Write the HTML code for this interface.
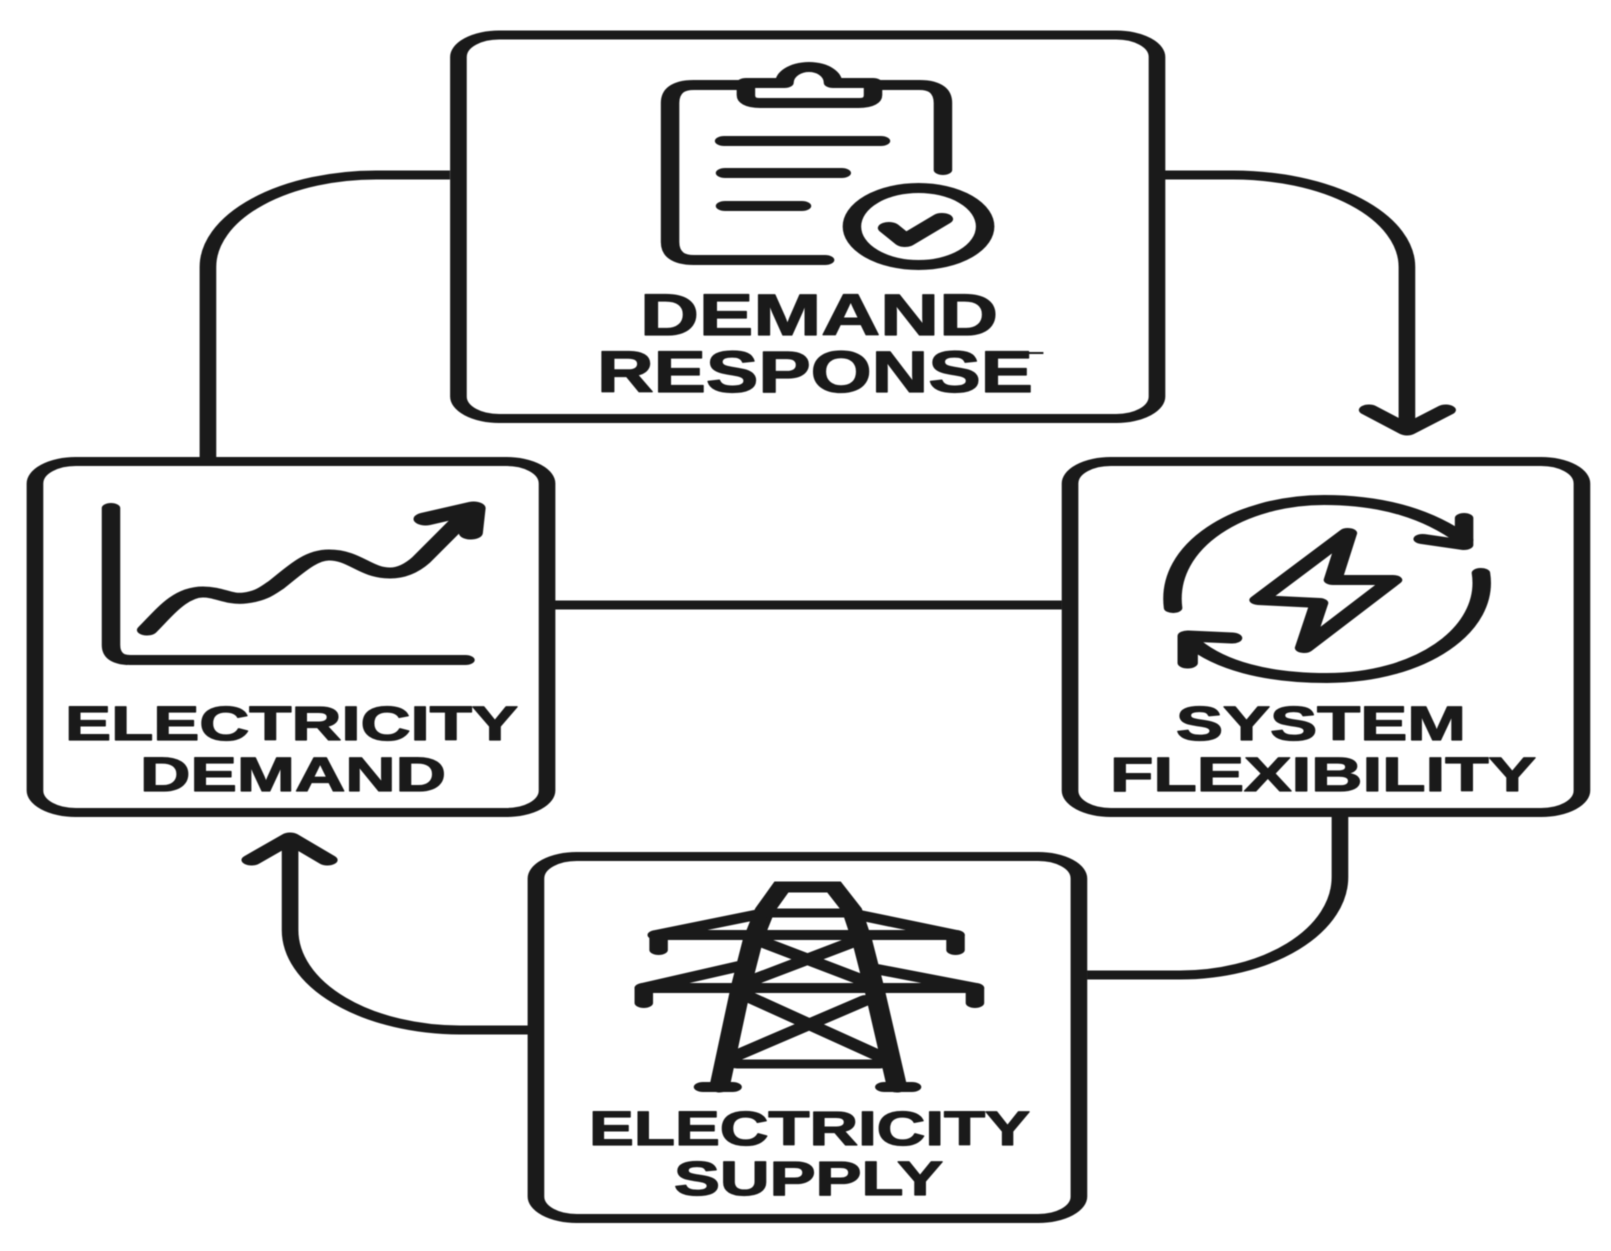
<!DOCTYPE html>
<html><head><meta charset="utf-8"><style>
html,body{margin:0;padding:0;background:#fff}
svg{display:block;filter:blur(0.6px)}
text{font-family:"Liberation Sans",sans-serif;font-weight:700;fill:#1a1a1a;stroke:#1a1a1a;stroke-width:1.3px;stroke-linejoin:round}
</style></head><body>
<svg width="1611" height="1251" viewBox="0 0 1611 1251" xmlns="http://www.w3.org/2000/svg">
<rect width="1611" height="1251" fill="#fff"/>
<g transform="scale(1.85 1)" fill="none" stroke="#1a1a1a" stroke-width="9" stroke-linecap="round" stroke-linejoin="round">
<!-- connectors -->
<g stroke-linecap="butt">
<path d="M629.7 175H666.5A94 92 0 0 1 760.5 267V430"/>
<path d="M243.2 175H203.8A91 92 0 0 0 112.4 267V457"/>
<path d="M285.4 1030H248.6A92 100 0 0 1 156.8 930V838"/>
<path d="M724.3 817V877A86.5 98 0 0 1 637.8 975H587.6"/>
<path d="M300 605H574"/>
</g>
<path d="M740 410L760.5 430L781.5 410" stroke-width="11"/>
<path d="M136 860L156.8 838L177 860" stroke-width="11"/>
<!-- boxes -->
<rect x="247.8" y="35" width="377.6" height="383.5" rx="22" ry="22"/>
<rect x="18.9" y="461.5" width="276.8" height="351" rx="22" ry="22"/>
<rect x="578.4" y="461.5" width="276.7" height="351" rx="22" ry="22"/>
<rect x="289.7" y="856.5" width="293.5" height="362" rx="22" ry="22"/>
<!-- clipboard -->
<g stroke-width="10">
<path d="M509.7 170V103Q509.7 85 497 85H375Q362.2 85 362.2 103V242Q362.2 260 375 260H446"/>
<path fill="#fff" d="M403.2 83H424C424 74 430 67 437.3 67C444.6 67 450.3 74 450.3 83H471.9V95Q471.9 103 464 103H411Q403.2 103 403.2 95Z"/>
<path d="M391.4 141H476.2M391.9 173H455M391.9 206H433.5"/>
<ellipse cx="496.5" cy="226.5" rx="36" ry="38.5" fill="#fff"/>
<path stroke-width="12" d="M480.5 228L489.2 241L509.2 219"/>
</g>
<!-- chart -->
<path stroke-width="10" d="M60 508V645Q60 660 70.3 660H251.6"/>
<path stroke-width="11" d="M79.5 630C89.2 612 97.3 592 109.7 592C118.9 592 123.2 600 132.4 598C141.6 596 144.9 590 149.2 585C159.5 570 167.6 555 177.8 555C191.9 555 197.3 573 210.8 573C217.3 573 222.7 568 227.6 560L254.6 510"/>
<path stroke-width="13" d="M230 519L256 508L254.5 533"/>
<!-- flexibility -->
<path stroke-width="10" d="M634.1 608C629.7 545 670.3 500 715.7 500C748.6 500 773 515 791.4 540"/>
<path stroke-width="10" d="M800.5 573C805.4 630 767.6 678 717.3 678C683.8 678 659.5 665 644.9 643"/>
<path stroke-width="10" d="M791.4 518V545L769 539"/>
<path stroke-width="11" d="M666 638L642 636V663"/>
<path stroke-width="10" d="M728.6 533L680.3 600L713 603L704.9 648L753 580L720.5 580Z"/>
<!-- tower -->
<path stroke-width="11" stroke-linejoin="miter" d="M388.9 1087L400.5 987L407 940L413.5 910L422.4 887H450.8L460.5 910L465.9 940L472.4 987L484.9 1087"/>
<path stroke-width="10" d="M355 935H516.5M355 935L411 914M461.6 914L516.5 935"/>
<path stroke-width="10" d="M356 935V950M516.5 935V950"/>
<path stroke-width="10" d="M348 988H527M348 988L400 966M473.5 969L527 988"/>
<path stroke-width="10" d="M348 988V1003M527 988V1003"/>
<path stroke-width="9" d="M415.7 913H458.4M398.4 1064H475.7"/>
<path stroke-width="10" d="M413.5 943L465.9 980M459.5 943L407 980M404.9 997L476.5 1057M468.1 1000L396.2 1057"/>
<path stroke-width="10" d="M380 1087H396M478 1087H493"/>
<!-- glitch on response -->
<path stroke-width="2" stroke-linecap="butt" d="M549 353H564"/>
</g>
<text x="640" y="335" font-size="58" textLength="358" lengthAdjust="spacingAndGlyphs">DEMAND</text>
<text x="597" y="392" font-size="58" textLength="436" lengthAdjust="spacingAndGlyphs">RESPONSE</text>
<text x="65" y="740" font-size="48" textLength="453" lengthAdjust="spacingAndGlyphs">ELECTRICITY</text>
<text x="140" y="791" font-size="48" textLength="306" lengthAdjust="spacingAndGlyphs">DEMAND</text>
<text x="1176" y="740" font-size="48" textLength="290" lengthAdjust="spacingAndGlyphs">SYSTEM</text>
<text x="1110" y="791" font-size="48" textLength="426" lengthAdjust="spacingAndGlyphs">FLEXIBILITY</text>
<text x="589" y="1145" font-size="48" textLength="441" lengthAdjust="spacingAndGlyphs">ELECTRICITY</text>
<text x="674" y="1195" font-size="48" textLength="269" lengthAdjust="spacingAndGlyphs">SUPPLY</text>
</svg>
</body></html>
